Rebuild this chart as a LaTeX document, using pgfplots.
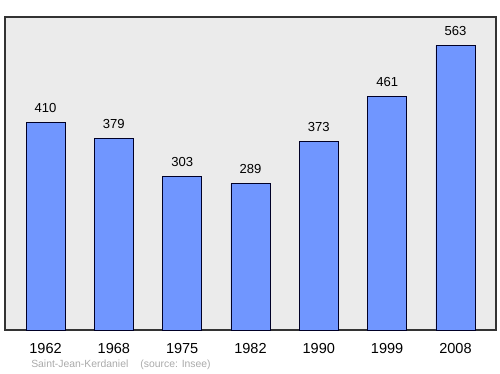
\documentclass[border=0pt]{standalone}
\usepackage{pgfplots}
\pgfplotsset{compat=1.18}
\usepackage{fontspec}
\setmainfont{Liberation Sans}
\definecolor{barblue}{RGB}{112,150,255}
\definecolor{bgray}{RGB}{235,235,235}
\definecolor{srcgray}{RGB}{170,170,170}
\begin{document}
\begin{tikzpicture}[x=1pt,y=1pt]
\useasboundingbox (-3.75,-33) rectangle (371.25,247.5);
\begin{axis}[
  at={(0,0)}, anchor=south west,
  scale only axis,
  width=368.25pt, height=234.75pt,
  xmin=-0.593, xmax=6.593,
  ymin=0, ymax=619,
  axis background/.style={fill=bgray},
  axis line style={black!80, line width=0.8pt},
  xtick={0,1,2,3,4,5,6},
  xticklabels={1962,1968,1975,1982,1990,1999,2008},
  xtick style={draw=none},
  ytick=\empty,
  xticklabel style={font=\fontsize{10.9}{12}\selectfont, yshift=-2pt},
  /pgf/number format/assume math mode=true,
  ybar, bar width=0.571,
  nodes near coords,
  nodes near coords style={font=\fontsize{9.8}{11}\selectfont, yshift=4pt},
  clip=false,
]
\addplot[fill=barblue, draw=black!85!blue, line width=0.6pt] coordinates {
(0,410) (1,379) (2,303) (3,289) (4,373) (5,461) (6,563)};
\end{axis}
\node[anchor=base west, font=\fontsize{7.8}{9}\selectfont, text=srcgray, inner sep=0pt] at (19.5,-28.5) {Saint-Jean-Kerdaniel\hspace{9pt}(source: Insee)};
\end{tikzpicture}
\end{document}
